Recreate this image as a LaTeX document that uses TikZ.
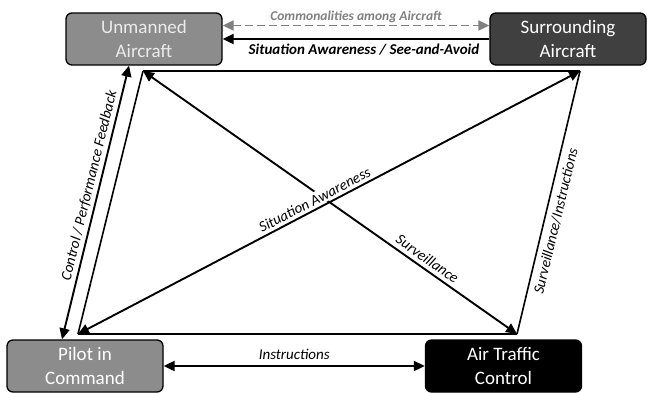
\documentclass[tikz,border=0pt]{standalone}
\usepackage{fontspec}
\setmainfont{Carlito}
\usetikzlibrary{arrows.meta}

\begin{document}
\begin{tikzpicture}[
    x=1pt, y=-1pt,
    >={Triangle[length=11pt, width=10pt]},
    box/.style={rectangle, rounded corners=6pt, draw=black, line width=1.3pt,
        minimum width=156pt, minimum height=52pt, align=center,
        font=\fontsize{19}{24}\selectfont, text=white},
    link/.style={line width=1.9pt},
    frame/.style={line width=1.6pt},
    linklabel/.style={font=\fontsize{15}{17}\selectfont\itshape, inner sep=2pt}
]
\useasboundingbox (0,0) rectangle (647,392);

% === BOXES ===
\node[box, fill=black!45, text=black!8] (ua) at (144,39) {Unmanned\\Aircraft};
\node[box, fill=black!75] (sa) at (568,39) {Surrounding\\Aircraft};
\node[box, fill=black!45] (pic) at (85,366) {Pilot in\\Command};
\node[box, fill=black] (atc) at (503.5,366) {Air Traffic\\Control};

% corners of the inner frame
\coordinate (tl) at (143,71);
\coordinate (tr) at (580,71);
\coordinate (bl) at (78,334);
\coordinate (br) at (517,334);

% === TOP: aircraft to aircraft ===
\draw[link, black!50, dash pattern=on 8pt off 4pt, <->] ([yshift=13.5pt]ua.east) -- ([yshift=13.5pt]sa.west)
    node[midway, above=0pt, linklabel, font=\fontsize{13.5}{15}\selectfont\bfseries\itshape] {Commonalities among Aircraft};
\draw[link, ->] (sa.west) -- (ua.east)
    node[pos=0.47, below=2pt, linklabel, font=\fontsize{15}{17}\selectfont\bfseries\itshape] {Situation Awareness / See-and-Avoid};

% === BOTTOM: pilot to ATC ===
\draw[link, <->] (pic.east) -- (atc.west)
    node[midway, above=3pt, linklabel] {Instructions};

% === Inner frame ===
\draw[frame] (tl) -- (tr);
\draw[frame] (bl) -- (br);
\draw[frame] (tl) -- (bl);
\draw[frame] (br) -- (tr)
    node[pos=0.44, sloped, below=3pt, linklabel] {Surveillance/Instructions};

% Diagonals
\draw[link, <->] (tl) -- (br)
    node[pos=0.745, sloped, above=2pt, linklabel] {Surveillance};
\draw[link, <->] (bl) -- (tr)
    node[pos=0.48, sloped, above=1pt, linklabel, fill=white] {Situation Awareness};

% Pilot <-> Unmanned Aircraft
\draw[link, <->] ([xshift=-23pt]pic.north) -- ([xshift=-15pt]ua.south)
    node[pos=0.553, sloped, above=1pt, linklabel] {Control / Performance Feedback};

\end{tikzpicture}
\end{document}
